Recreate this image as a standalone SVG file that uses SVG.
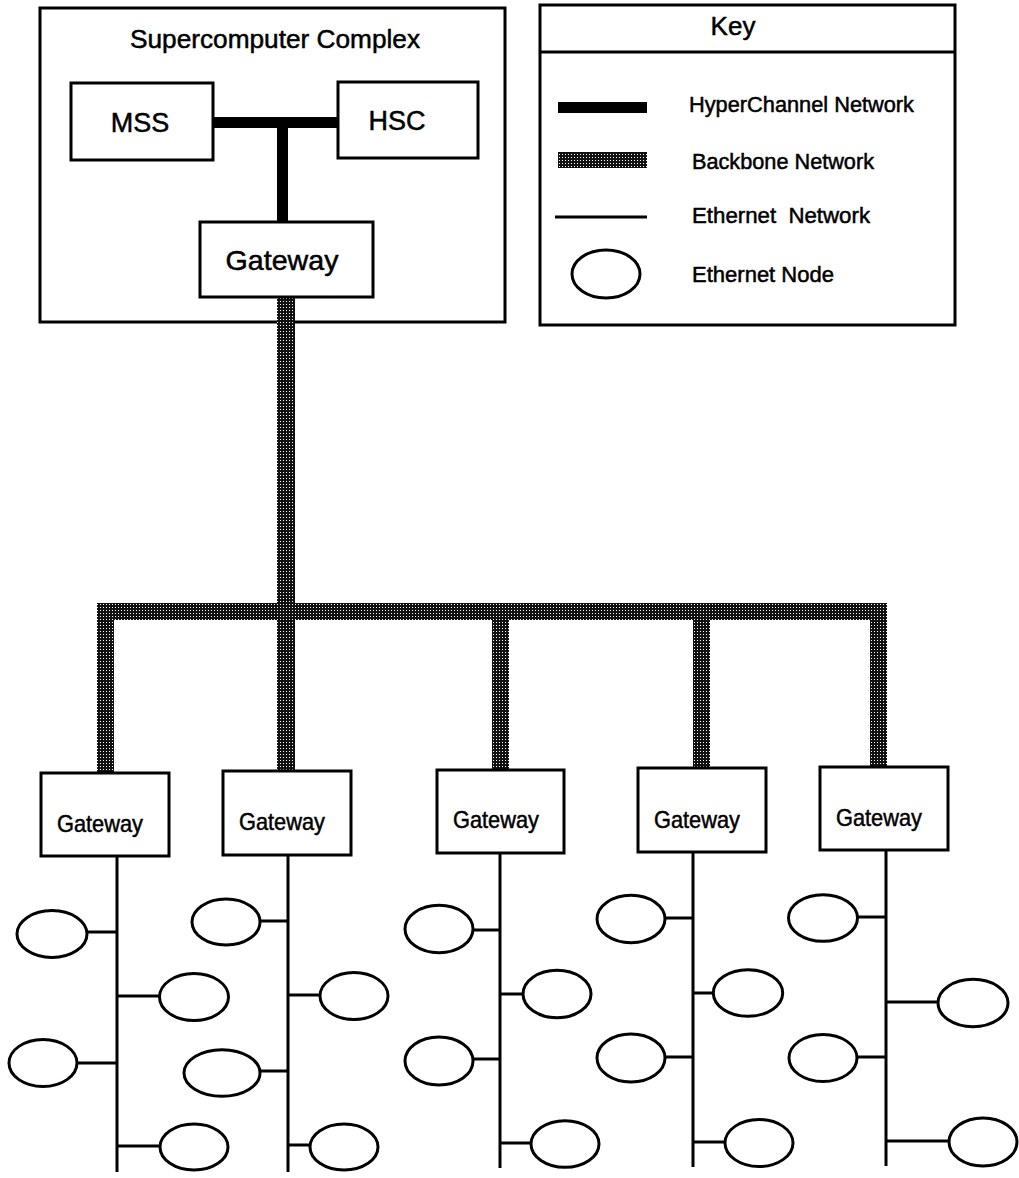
<svg xmlns="http://www.w3.org/2000/svg" width="1019" height="1178" viewBox="0 0 1019 1178">
<defs>
<pattern id="bb" width="3" height="3" patternUnits="userSpaceOnUse">
<rect width="3" height="3" fill="#111"/>
<rect x="1" y="1" width="1" height="1" fill="#fff"/>
</pattern>
</defs>
<style>
.box{fill:#fff;stroke:#000;stroke-width:3}
.t{font-family:"Liberation Sans",Arial,sans-serif;fill:#000;stroke:#000;stroke-width:0.5}
.eth{stroke:#000;stroke-width:3;fill:none}
.node{fill:#fff;stroke:#000;stroke-width:3}
.hyp{fill:#000}
.bb{fill:url(#bb)}
</style>
<rect width="1019" height="1178" fill="#fff"/>

<g id="supercomputer-complex">
<rect class="box" x="40" y="8" width="465" height="314"/>
<text class="t" x="275" y="48" font-size="26" text-anchor="middle" textLength="290" lengthAdjust="spacingAndGlyphs">Supercomputer Complex</text>
</g>

<g id="key">
<rect class="box" x="540" y="5" width="415" height="320"/>
<line x1="540" y1="52" x2="955" y2="52" stroke="#000" stroke-width="3"/>
<text class="t" x="733" y="35" font-size="26" text-anchor="middle">Key</text>
<rect class="hyp" x="558" y="102" width="89" height="11"/>
<text class="t" x="689" y="112" font-size="22" textLength="225" lengthAdjust="spacingAndGlyphs">HyperChannel Network</text>
<rect class="bb" x="558" y="152" width="89" height="16"/>
<text class="t" x="692" y="169" font-size="22" textLength="182" lengthAdjust="spacingAndGlyphs">Backbone Network</text>
<line x1="555" y1="217" x2="647" y2="217" stroke="#000" stroke-width="3"/>
<text class="t" x="692" y="223" font-size="22" textLength="178" lengthAdjust="spacingAndGlyphs" xml:space="preserve">Ethernet  Network</text>
<ellipse class="node" cx="606" cy="274" rx="34" ry="24"/>
<text class="t" x="692" y="282" font-size="22" textLength="142" lengthAdjust="spacingAndGlyphs">Ethernet Node</text>
</g>

<g id="connectors">
<rect class="hyp" x="213" y="117" width="125" height="11"/>
<rect class="hyp" x="277" y="117" width="11" height="105"/>
<rect class="bb" x="277" y="297" width="18" height="475"/>
<rect class="bb" x="97" y="603" width="790" height="17"/>
<rect class="bb" x="97" y="603" width="17" height="170"/>
<rect class="bb" x="492" y="603" width="17" height="167"/>
<rect class="bb" x="693" y="603" width="17" height="165"/>
<rect class="bb" x="870" y="603" width="17" height="164"/>
<line class="eth" x1="117" y1="856" x2="117" y2="1172"/>
<line class="eth" x1="87" y1="932" x2="117" y2="932"/>
<line class="eth" x1="117" y1="996" x2="160" y2="996"/>
<line class="eth" x1="78" y1="1063" x2="117" y2="1063"/>
<line class="eth" x1="117" y1="1146" x2="160" y2="1146"/>
<line class="eth" x1="288" y1="855" x2="288" y2="1172"/>
<line class="eth" x1="260" y1="921" x2="288" y2="921"/>
<line class="eth" x1="288" y1="995" x2="320" y2="995"/>
<line class="eth" x1="260" y1="1071" x2="288" y2="1071"/>
<line class="eth" x1="288" y1="1145" x2="310" y2="1145"/>
<line class="eth" x1="500" y1="853" x2="500" y2="1168"/>
<line class="eth" x1="473" y1="930" x2="500" y2="930"/>
<line class="eth" x1="500" y1="994" x2="523" y2="994"/>
<line class="eth" x1="473" y1="1059" x2="500" y2="1059"/>
<line class="eth" x1="500" y1="1143" x2="531" y2="1143"/>
<line class="eth" x1="693" y1="852" x2="693" y2="1167"/>
<line class="eth" x1="665" y1="918" x2="693" y2="918"/>
<line class="eth" x1="693" y1="993" x2="713" y2="993"/>
<line class="eth" x1="665" y1="1057" x2="693" y2="1057"/>
<line class="eth" x1="693" y1="1142" x2="725" y2="1142"/>
<line class="eth" x1="886" y1="850" x2="886" y2="1166"/>
<line class="eth" x1="857" y1="917" x2="886" y2="917"/>
<line class="eth" x1="886" y1="1002" x2="938" y2="1002"/>
<line class="eth" x1="857" y1="1057" x2="886" y2="1057"/>
<line class="eth" x1="886" y1="1141" x2="950" y2="1141"/>
</g>

<g id="mss">
<rect class="box" x="71" y="83" width="142" height="77"/>
<text class="t" x="140" y="132" font-size="27" text-anchor="middle">MSS</text>
</g>
<g id="hsc">
<rect class="box" x="338" y="82" width="140" height="76"/>
<text class="t" x="397" y="130" font-size="27" text-anchor="middle">HSC</text>
</g>
<g id="gateway-main">
<rect class="box" x="200" y="222" width="173" height="75"/>
<text class="t" x="282" y="270" font-size="28" text-anchor="middle" textLength="113" lengthAdjust="spacingAndGlyphs">Gateway</text>
</g>

<g id="gateway-1">
<rect class="box" x="41" y="773" width="128" height="83"/>
<text class="t" x="100" y="832" font-size="24" text-anchor="middle" textLength="86" lengthAdjust="spacingAndGlyphs">Gateway</text>
</g>
<g id="gateway-2">
<rect class="box" x="223" y="771" width="128" height="84"/>
<text class="t" x="282" y="830" font-size="24" text-anchor="middle" textLength="86" lengthAdjust="spacingAndGlyphs">Gateway</text>
</g>
<g id="gateway-3">
<rect class="box" x="437" y="770" width="127" height="83"/>
<text class="t" x="496" y="828" font-size="24" text-anchor="middle" textLength="86" lengthAdjust="spacingAndGlyphs">Gateway</text>
</g>
<g id="gateway-4">
<rect class="box" x="638" y="768" width="128" height="84"/>
<text class="t" x="697" y="828" font-size="24" text-anchor="middle" textLength="86" lengthAdjust="spacingAndGlyphs">Gateway</text>
</g>
<g id="gateway-5">
<rect class="box" x="820" y="767" width="128" height="83"/>
<text class="t" x="879" y="826" font-size="24" text-anchor="middle" textLength="86" lengthAdjust="spacingAndGlyphs">Gateway</text>
</g>

<g id="nodes-1">
<ellipse class="node" cx="52" cy="934" rx="35" ry="23.5"/>
<ellipse class="node" cx="194" cy="997" rx="34.5" ry="23.5"/>
<ellipse class="node" cx="43" cy="1063" rx="34" ry="23.5"/>
<ellipse class="node" cx="194" cy="1147" rx="34" ry="23"/>
</g>
<g id="nodes-2">
<ellipse class="node" cx="226" cy="922" rx="34" ry="23"/>
<ellipse class="node" cx="354" cy="996" rx="34" ry="23.5"/>
<ellipse class="node" cx="222" cy="1073" rx="38" ry="23.3"/>
<ellipse class="node" cx="344" cy="1147" rx="34" ry="23"/>
</g>
<g id="nodes-3">
<ellipse class="node" cx="439" cy="929" rx="34" ry="23.8"/>
<ellipse class="node" cx="557" cy="994" rx="34" ry="23.8"/>
<ellipse class="node" cx="439" cy="1061" rx="34" ry="24"/>
<ellipse class="node" cx="565" cy="1144" rx="34" ry="23.3"/>
</g>
<g id="nodes-4">
<ellipse class="node" cx="631" cy="919" rx="34" ry="23.7"/>
<ellipse class="node" cx="748" cy="993" rx="34.7" ry="23.3"/>
<ellipse class="node" cx="631" cy="1058" rx="34" ry="24"/>
<ellipse class="node" cx="759" cy="1143" rx="34" ry="23.5"/>
</g>
<g id="nodes-5">
<ellipse class="node" cx="823" cy="918" rx="34.5" ry="23.3"/>
<ellipse class="node" cx="973" cy="1003" rx="35" ry="23.7"/>
<ellipse class="node" cx="823" cy="1058" rx="34" ry="23.5"/>
<ellipse class="node" cx="983" cy="1142" rx="34" ry="24"/>
</g>
</svg>
